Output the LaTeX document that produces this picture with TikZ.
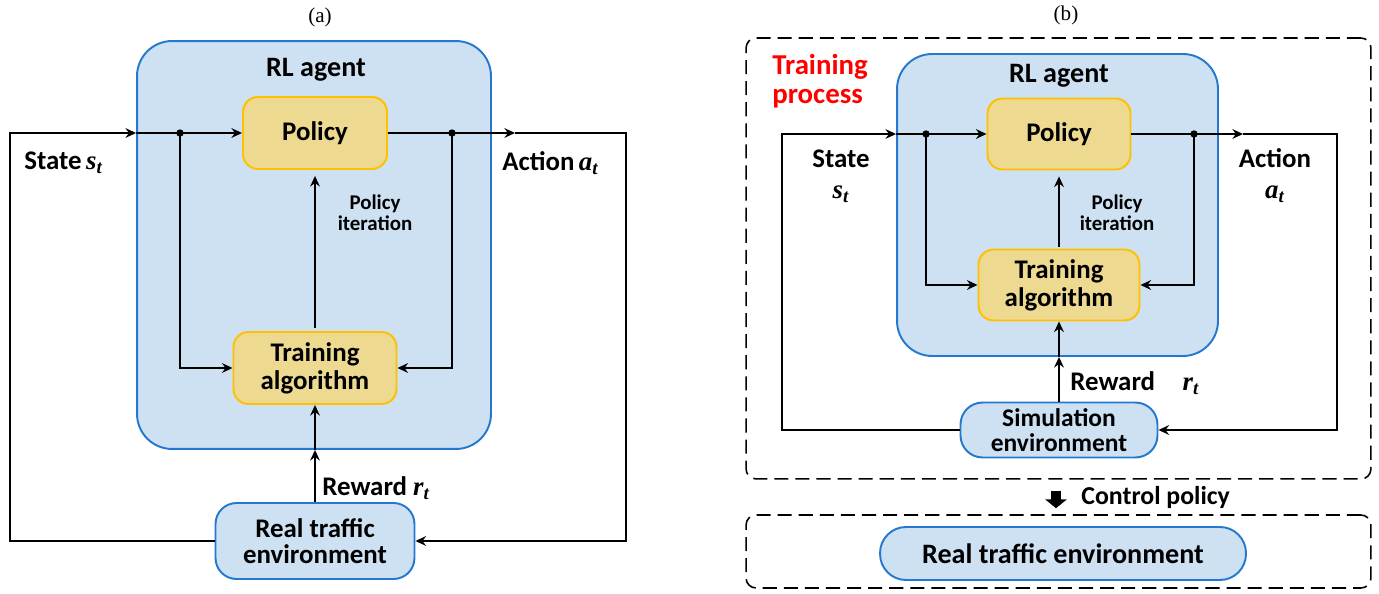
\documentclass[tikz,border=0pt]{standalone}
\usepackage{fontspec}
\setmainfont{Carlito}
\newfontfamily\capserif{Liberation Serif}
\usetikzlibrary{positioning}
\usetikzlibrary{arrows.meta}
\definecolor{agentfill}{HTML}{CDE1F3}
\definecolor{agentedge}{HTML}{2479CF}
\definecolor{blockfill}{HTML}{EDD990}
\definecolor{blockedge}{HTML}{FFC000}
\definecolor{procred}{HTML}{FF0000}
\newcommand{\sym}[2]{{\capserif\bfseries\itshape #1\textsubscript{#2}}}
\tikzset{agent/.style={rectangle,rounded corners=0.7cm,draw=agentedge,fill=agentfill,
line width=1.1pt}}
\tikzset{block/.style={rectangle,rounded corners=0.3cm,draw=blockedge,fill=blockfill,
line width=1.1pt,align=center,font=\fontsize{15.3}{16}\selectfont\bfseries}}
\tikzset{envbox/.style={rectangle,rounded corners=0.42cm,draw=agentedge,fill=agentfill,
line width=1.1pt,align=center,font=\fontsize{15.3}{15}\selectfont\bfseries}}
\tikzset{phase/.style={rectangle,rounded corners=0.2cm,draw=black,dash pattern=on 8pt off 4pt,
line width=0.9pt}}
\tikzset{sig/.style={inner sep=0pt,align=center,font=\fontsize{15.3}{17.6}\selectfont\bfseries}}
\tikzset{note/.style={inner sep=0pt,align=center,font=\fontsize{11.9}{12}\selectfont\bfseries}}
\tikzset{arr/.style={line width=1.1pt,-{Stealth[length=6pt,width=5.5pt]}}}
\tikzset{handover/.style={line width=5.7pt,-{Triangle[length=5pt,width=12pt]}}}

\begin{document}
\begin{tikzpicture}[x=0.02cm,y=-0.02cm]
    \useasboundingbox (0,0) rectangle (1379,594);

    % (a) real traffic training
    \node[font=\capserif\fontsize{12}{12}\selectfont] (capA) at (320, 17) {(a)};
    \node[agent,minimum width=7.08cm,minimum height=8.16cm] (agentA) at (314, 245) {};
    \node[sig,font=\fontsize{16}{16}\selectfont\bfseries] (agentlabA) at (316, 70) {RL agent};
    \node[block,minimum width=2.88cm,minimum height=1.44cm] (policyA) at (315, 133) {Policy};
    \node[block,minimum width=3.26cm,minimum height=1.44cm] (trainA) at (315, 368) {Training\\algorithm};
    \node[envbox,minimum width=3.98cm,minimum height=1.52cm] (realA) at (315, 541) {Real traffic\\environment};

    \coordinate (inA) at (agentA.west |- policyA);
    \coordinate (loopLA) at (10, 133);
    \coordinate (dot1A) at (180, 133);
    \coordinate (dot2A) at (452, 133);
    \coordinate (outA) at (515, 133);
    \coordinate (loopRA) at (626, 133);
    \coordinate (botA) at (agentA.south -| realA.north);

    \draw[arr] (realA.west) -| (loopLA) -- (inA);
    \draw[arr] (inA) -- (policyA.west);
    \draw[arr] (policyA.east) -- (outA);
    \draw[arr] (outA) -- (loopRA) |- (realA.east);
    \fill (dot1A) circle[radius=2.1pt];
    \fill (dot2A) circle[radius=2.1pt];
    \draw[arr] (dot1A) |- (trainA.west);
    \draw[arr] (dot2A) |- (trainA.east);
    \draw[arr,shorten <=2pt,shorten >=3.4pt] (trainA.north) -- (policyA.south);
    \draw[arr] (realA.north) -- (botA);
    \draw[arr] (botA) -- (trainA.south);

    \node[sig,anchor=west] (stateA) at (24, 163) {State\,\sym{s}{t}};
    \node[sig,anchor=west] (actionA) at (502, 163) {Action\,\sym{a}{t}};
    \node[sig,anchor=west] (rewardA) at (322, 488) {Reward \sym{r}{t}};
    \node[note] (iterA) at (375, 213) {Policy\\iteration};

    % (b) simulation training, then deployment
    \node[font=\capserif\fontsize{12}{12}\selectfont] (capB) at (1066, 15) {(b)};
    \node[phase,minimum width=12.5cm,minimum height=8.82cm] (outerB) at (1058.5, 258.5) {};
    \node[phase,minimum width=12.5cm,minimum height=1.46cm] (deployB) at (1058.5, 551.5) {};
    \node[sig,anchor=west,align=left,text=procred,font=\fontsize{16.4}{16.5}\selectfont\bfseries] (procB) at (772, 81) {Training\\process};
    \node[agent,minimum width=6.42cm,minimum height=6.04cm] (agentB) at (1057.5, 205) {};
    \node[sig,font=\fontsize{16}{16}\selectfont\bfseries] (agentlabB) at (1059, 76) {RL agent};
    \node[block,minimum width=2.86cm,minimum height=1.42cm] (policyB) at (1059, 134) {Policy};
    \node[block,minimum width=3.22cm,minimum height=1.42cm] (trainB) at (1059, 285) {Training\\algorithm};
    \node[envbox,rounded corners=0.44cm,minimum width=3.94cm,minimum height=1.06cm,
        font=\fontsize{14.5}{14.3}\selectfont\bfseries] (simB) at (1059, 430) {Simulation\\environment};
    \node[envbox,rounded corners=0.52cm,minimum width=7.32cm,minimum height=1.06cm,
        font=\fontsize{16}{16}\selectfont\bfseries] (realB) at (1063, 553.5) {Real traffic environment};

    \coordinate (inB) at (agentB.west |- policyB);
    \coordinate (loopLB) at (782, 134);
    \coordinate (dot1B) at (926, 134);
    \coordinate (dot2B) at (1194, 134);
    \coordinate (outB) at (1243, 134);
    \coordinate (loopRB) at (1337, 134);
    \coordinate (botB) at (agentB.south -| simB.north);

    \draw[arr] (simB.west) -| (loopLB) -- (inB);
    \draw[arr] (inB) -- (policyB.west);
    \draw[arr] (policyB.east) -- (outB);
    \draw[arr] (outB) -- (loopRB) |- (simB.east);
    \fill (dot1B) circle[radius=2.1pt];
    \fill (dot2B) circle[radius=2.1pt];
    \draw[arr] (dot1B) |- (trainB.west);
    \draw[arr] (dot2B) |- (trainB.east);
    \draw[arr,shorten <=1pt,shorten >=3.4pt] (trainB.north) -- (policyB.south);
    \draw[arr] (simB.north) -- (botB);
    \draw[arr] (botB) -- (trainB.south);
    \draw[handover,shorten <=0.22cm,shorten >=0.12cm] ([xshift=-0.05cm]outerB.south) -- ([xshift=-0.05cm]deployB.north);

    \node[sig] (stateB) at (841, 176) {State\\\sym{s}{t}};
    \node[sig] (actionB) at (1275, 176) {Action\\\sym{a}{t}};
    \node[sig,anchor=west] (rewardB) at (1070, 383) {Reward\hspace{0.55cm}\sym{r}{t}};
    \node[note] (iterB) at (1117, 213) {Policy\\iteration};
    \node[sig,anchor=west,font=\fontsize{14.7}{15}\selectfont\bfseries] (ctrlB) at (1081, 497) {Control policy};

\end{tikzpicture}
\end{document}
